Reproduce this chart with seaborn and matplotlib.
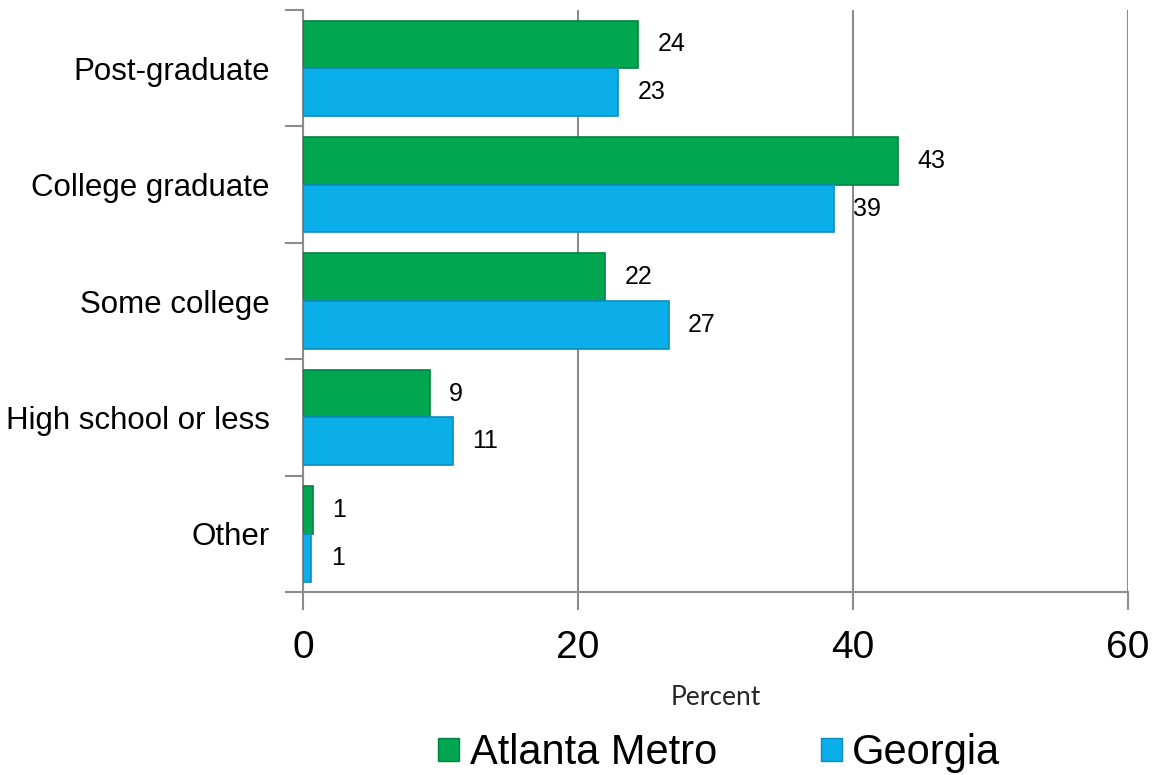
import numpy as np
import pandas as pd
import matplotlib
matplotlib.use("Agg")
import matplotlib.pyplot as plt
import seaborn as sns
from matplotlib.patches import Patch

# Education level, percent
categories = ["Post-graduate", "College graduate", "Some college", "High school or less", "Other"]
atlanta = [24.4, 43.3, 22.0, 9.2, 0.7]
georgia = [22.9, 38.6, 26.6, 10.9, 0.6]
series = ["Atlanta Metro", "Georgia"]
colors = ["#00A650", "#0AAEE8"]
edge_colors = ["#00843F", "#0A8CC0"]
x_ticks = [0, 20, 40, 60]

df = pd.DataFrame({
    "category": categories * 2,
    "value": atlanta + georgia,
    "series": [series[0]] * len(categories) + [series[1]] * len(categories),
})

sns.set_style("white")
plt.rcParams["font.family"] = ["Liberation Sans", "DejaVu Sans"]
plt.rcParams["text.color"] = "black"
plt.rcParams["xtick.color"] = "black"
plt.rcParams["ytick.color"] = "black"

fig = plt.figure(figsize=(11.53, 7.75), dpi=100)
ax = fig.add_axes([0.2628, 0.236, 0.7155, 0.751])

sns.barplot(data=df, y="category", x="value", hue="series", order=categories,
            hue_order=series, palette=colors, saturation=1, orient="h", width=0.82,
            legend=False, ax=ax, zorder=3)

# edges for a slight bevel look + value labels
for cont, ec in zip(ax.containers, edge_colors):
    for bar in cont:
        bar.set_edgecolor(ec)
        bar.set_linewidth(1.2)
    ax.bar_label(cont, labels=[f"{b.get_width():.0f}" for b in cont],
                 padding=14, fontsize=18, color="black")

ax.set_xlim(0, 60)
ax.set_ylim(len(categories) - 0.5, -0.5)
ax.set_xticks(x_ticks)
ax.set_xticklabels([str(t) for t in x_ticks], fontsize=28)
ax.set_xlabel("Percent", fontsize=19, family=["Lato", "DejaVu Sans"], labelpad=14)
ax.set_ylabel("")
ax.tick_params(axis="y", which="major", length=0, labelsize=22.5, pad=24)
ax.set_yticks(np.arange(-0.5, len(categories), 1.0), minor=True)
ax.tick_params(axis="y", which="minor", left=True, length=13, width=1.5, color="#8c8c8c", direction="out")
ax.tick_params(axis="x", bottom=True, length=13, width=1.5, color="#8c8c8c", direction="out", pad=14)

ax.grid(axis="x", color="#8c8c8c", linewidth=1.5, zorder=0)
ax.set_axisbelow(True)
for s in ["top", "right"]:
    ax.spines[s].set_visible(False)
for s in ["left", "bottom"]:
    ax.spines[s].set_color("#8c8c8c")
    ax.spines[s].set_linewidth(1.5)

handles = [Patch(facecolor=c, edgecolor=e, label=l) for c, e, l in zip(colors, edge_colors, series)]
fig.legend(handles=handles, loc="center", bbox_to_anchor=(0.624, 0.028), ncol=2, frameon=False,
           fontsize=30, handlelength=0.5, handleheight=0.5, handletextpad=0.25, columnspacing=2.5)

fig.savefig("out.png", dpi=100)
